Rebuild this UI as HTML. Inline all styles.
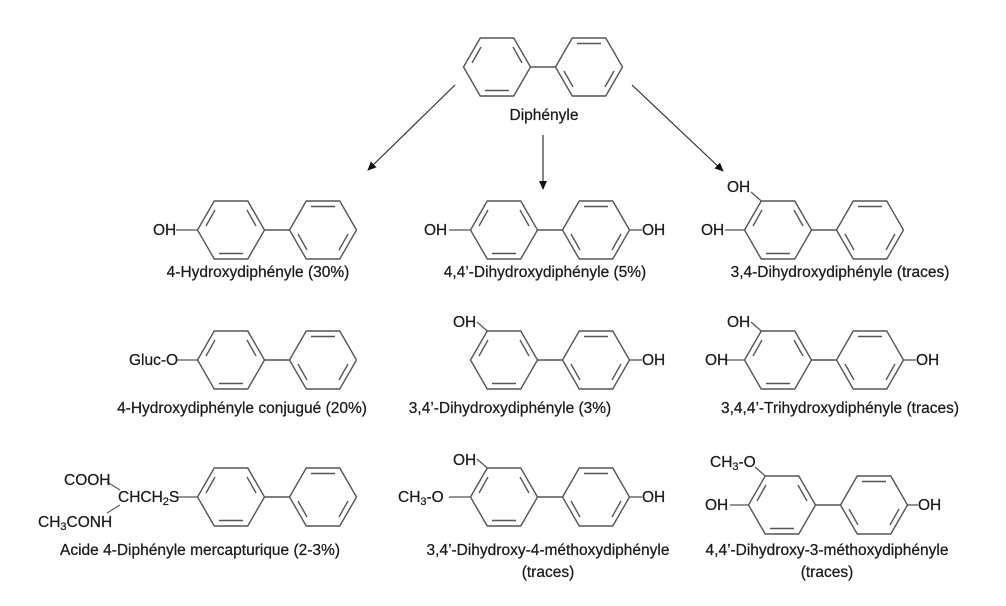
<!DOCTYPE html>
<html><head><meta charset="utf-8"><style>
html,body{margin:0;padding:0;background:#fff}
svg text{font-family:"Liberation Sans",sans-serif;font-size:15.5px;fill:#1a1a1a;stroke:#1a1a1a;stroke-width:0.25}
</style></head><body>
<svg width="1006" height="601" viewBox="0 0 1006 601" xmlns="http://www.w3.org/2000/svg">
<defs>
<g id="r" fill="none" stroke="#555" stroke-width="1.4">
<polygon points="-33.5,0 -16.75,-29 16.75,-29 33.5,0 16.75,29 -16.75,29"/>
<line x1="-12" y1="-23.5" x2="12" y2="-23.5"/>
<line x1="25" y1="4" x2="16" y2="20"/>
<line x1="-25" y1="4" x2="-16" y2="20"/>
</g>
<g id="r2" fill="none" stroke="#555" stroke-width="1.4">
<polygon points="-33.5,0 -16.75,-29 16.75,-29 33.5,0 16.75,29 -16.75,29"/>
<line x1="-12" y1="23.5" x2="12" y2="23.5"/>
<line x1="25" y1="-4" x2="16" y2="-20"/>
<line x1="-25" y1="-4" x2="-16" y2="-20"/>
</g>
<g id="bp">
<use href="#r2" x="0" y="0"/><use href="#r" x="92" y="0"/>
<line x1="33.5" y1="0" x2="58.5" y2="0" stroke="#555" stroke-width="1.4"/>
</g>
<marker id="a" markerWidth="10" markerHeight="10" refX="8" refY="5" orient="auto" markerUnits="userSpaceOnUse">
<path d="M0,1 L9,5 L0,9 z" fill="#111"/></marker>
</defs>
<g stroke="#333" stroke-width="1.2" fill="none">
<line x1="455" y1="85" x2="368" y2="170" marker-end="url(#a)"/>
<line x1="543" y1="135" x2="543" y2="189" marker-end="url(#a)"/>
<line x1="632" y1="85" x2="723" y2="171" marker-end="url(#a)"/>
</g>
<use href="#bp" x="497" y="67"/>
<text x="544" y="120" text-anchor="middle">Diphényle</text>

<use href="#bp" x="231" y="230"/>
<line x1="176" y1="230" x2="197.5" y2="230" stroke="#555" stroke-width="1.3"/>
<text x="153" y="235">OH</text>
<text x="258" y="277" text-anchor="middle">4-Hydroxydiphényle (30%)</text>

<use href="#bp" x="504" y="230"/>
<line x1="449" y1="230" x2="470.5" y2="230" stroke="#555" stroke-width="1.3"/>
<line x1="629.5" y1="230" x2="642" y2="230" stroke="#555" stroke-width="1.3"/>
<text x="424" y="235">OH</text>
<text x="642" y="235">OH</text>
<text x="545" y="277" text-anchor="middle">4,4’-Dihydroxydiphényle (5%)</text>

<use href="#bp" x="778" y="230"/>
<line x1="725" y1="230" x2="744.5" y2="230" stroke="#555" stroke-width="1.3"/>
<line x1="761.25" y1="201" x2="751" y2="192" stroke="#555" stroke-width="1.3"/>
<text x="701" y="235">OH</text>
<text x="727" y="192">OH</text>
<text x="840" y="277" text-anchor="middle">3,4-Dihydroxydiphényle (traces)</text>

<use href="#bp" x="231" y="360"/>
<line x1="176" y1="360" x2="197.5" y2="360" stroke="#555" stroke-width="1.3"/>
<text x="129" y="365">Gluc-O</text>
<text x="242" y="413" text-anchor="middle">4-Hydroxydiphényle conjugué (20%)</text>

<use href="#bp" x="504" y="360"/>
<line x1="487.25" y1="331" x2="477" y2="322" stroke="#555" stroke-width="1.3"/>
<line x1="629.5" y1="360" x2="642" y2="360" stroke="#555" stroke-width="1.3"/>
<text x="453" y="327">OH</text>
<text x="642" y="365">OH</text>
<text x="510" y="413" text-anchor="middle">3,4’-Dihydroxydiphényle (3%)</text>

<use href="#bp" x="778" y="360"/>
<line x1="725" y1="360" x2="744.5" y2="360" stroke="#555" stroke-width="1.3"/>
<line x1="761.25" y1="331" x2="751" y2="322" stroke="#555" stroke-width="1.3"/>
<line x1="903.5" y1="360" x2="916" y2="360" stroke="#555" stroke-width="1.3"/>
<text x="705" y="365">OH</text>
<text x="727" y="327">OH</text>
<text x="916" y="365">OH</text>
<text x="840" y="413" text-anchor="middle">3,4,4’-Trihydroxydiphényle (traces)</text>

<use href="#bp" x="231" y="497"/>
<line x1="176" y1="497" x2="197.5" y2="497" stroke="#555" stroke-width="1.3"/>
<line x1="107" y1="482" x2="120" y2="490" stroke="#555" stroke-width="1.1"/>
<line x1="107" y1="513" x2="120" y2="505" stroke="#555" stroke-width="1.1"/>
<text x="64" y="485">COOH</text>
<text x="118" y="502">CHCH<tspan font-size="11" dy="3">2</tspan><tspan dy="-3">S</tspan></text>
<text x="38" y="527">CH<tspan font-size="11" dy="3">3</tspan><tspan dy="-3">CONH</tspan></text>
<text x="200" y="555" text-anchor="middle">Acide 4-Diphényle mercapturique (2-3%)</text>

<use href="#bp" x="504" y="497"/>
<line x1="449" y1="497" x2="470.5" y2="497" stroke="#555" stroke-width="1.3"/>
<line x1="487.25" y1="468" x2="477" y2="459" stroke="#555" stroke-width="1.3"/>
<line x1="629.5" y1="497" x2="642" y2="497" stroke="#555" stroke-width="1.3"/>
<text x="453" y="465">OH</text>
<text x="398" y="502">CH<tspan font-size="11" dy="3">3</tspan><tspan dy="-3">-O</tspan></text>
<text x="642" y="502">OH</text>
<text x="548" y="555" text-anchor="middle">3,4’-Dihydroxy-4-méthoxydiphényle</text>
<text x="548" y="577" text-anchor="middle">(traces)</text>

<use href="#bp" x="782" y="505"/>
<line x1="730" y1="505" x2="748.5" y2="505" stroke="#555" stroke-width="1.3"/>
<line x1="765.25" y1="476" x2="755" y2="467" stroke="#555" stroke-width="1.3"/>
<line x1="907.5" y1="505" x2="918" y2="505" stroke="#555" stroke-width="1.3"/>
<text x="705" y="510">OH</text>
<text x="710" y="467">CH<tspan font-size="11" dy="3">3</tspan><tspan dy="-3">-O</tspan></text>
<text x="918" y="510">OH</text>
<text x="827" y="555" text-anchor="middle">4,4’-Dihydroxy-3-méthoxydiphényle</text>
<text x="827" y="577" text-anchor="middle">(traces)</text>
</svg>
</body></html>
